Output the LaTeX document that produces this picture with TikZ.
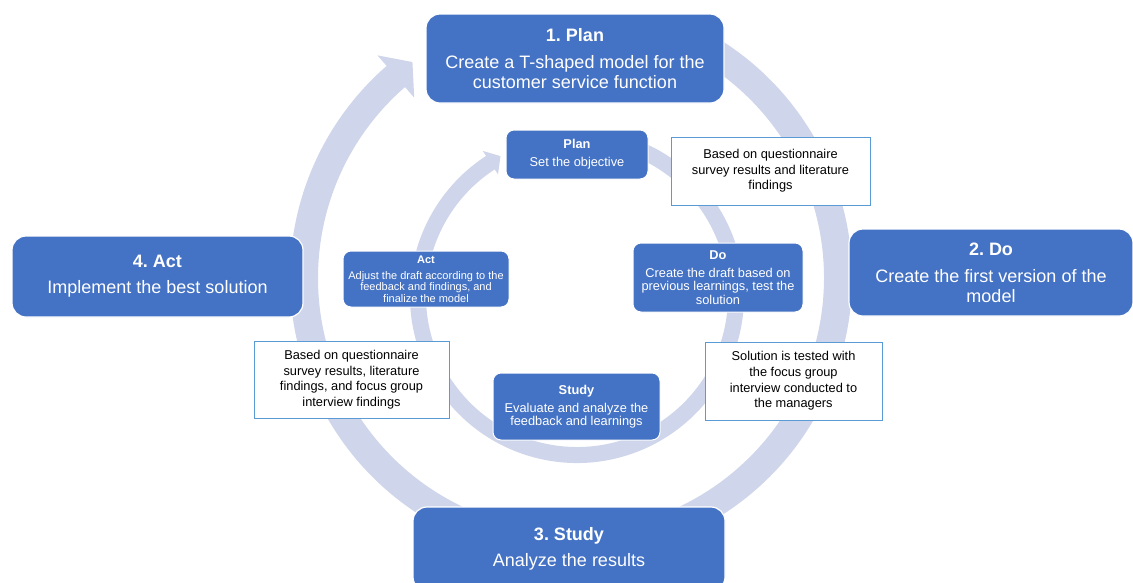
\documentclass[tikz,border=0pt]{standalone}
\usepackage{fontspec}
\setmainfont{Liberation Sans}
\usetikzlibrary{calc}
\frenchspacing
\definecolor{boxblue}{HTML}{4472C4}
\definecolor{ringc}{HTML}{CFD5EA}
\definecolor{tbline}{HTML}{5B9BD5}
\begin{document}
\begin{tikzpicture}[x=1pt,y=-1pt,
  bigbox/.style={draw=white, line width=1.2pt, fill=boxblue, rounded corners=14pt,
    text=white, align=center, inner sep=0pt, font=\fontsize{18}{19.4}\selectfont},
  smallbox/.style={draw=white, line width=1pt, fill=boxblue, rounded corners=8pt,
    text=white, align=center, inner sep=0pt, font=\fontsize{12.8}{13.3}\selectfont},
  actbox/.style={smallbox, font=\fontsize{11}{11.5}\selectfont},
  notebox/.style={draw=tbline, line width=1pt, fill=white, align=center,
    inner sep=0pt, font=\fontsize{12.8}{15.6}\selectfont}]

\useasboundingbox (0,0) rectangle (1133,582);

% outer cycle arrow
\coordinate (oc) at (571,278);
\fill[ringc] ($(oc)+(-70:281)$) arc[start angle=-70, end angle=229, radius=281]
  -- ($(oc)+(229:295)$) -- ($(oc)+(229:267)+(-41:22)$) -- ($(oc)+(229:239)$)
  -- ($(oc)+(229:253)$) arc[start angle=229, end angle=-70, radius=253] -- cycle;

% inner cycle arrow
\coordinate (ic) at (577,296);
\fill[ringc] ($(ic)+(-75:167)$) arc[start angle=-75, end angle=237, radius=167]
  -- ($(ic)+(237:173)$) -- ($(ic)+(237:159)+(-33:12)$) -- ($(ic)+(237:145)$)
  -- ($(ic)+(237:151)$) arc[start angle=237, end angle=-75, radius=151] -- cycle;

% outer PDSA steps
\node[bigbox, minimum width=298pt, minimum height=89pt] (plan) at (575,58.5)
  {\textbf{1. Plan}\\[7.6pt]Create a T-shaped model for the\\customer service function};
\node[bigbox, minimum width=284pt, minimum height=87pt] (do) at (991,272.5)
  {\textbf{2. Do}\\[7.9pt]Create the first version of the\\model};
\node[bigbox, minimum width=312pt, minimum height=84pt] (study) at (569,549)
  {\textbf{3. Study}\\[6.6pt]Analyze the results};
\node[bigbox, minimum width=291pt, minimum height=81pt] (act) at (157.5,276.5)
  {\textbf{4. Act}\\[6.3pt]Implement the best solution};

% inner PDSA steps
\node[smallbox, minimum width=142pt, minimum height=49pt] (iplan) at (577,154.5)
  {\textbf{Plan}\\[4.7pt]Set the objective};
\node[smallbox, minimum width=170pt, minimum height=69pt] (ido) at (718,277.5)
  {\textbf{Do}\\[5pt]Create the draft based on\\previous learnings, test the\\solution};
\node[smallbox, minimum width=167pt, minimum height=67pt] (istudy) at (576.5,406.5)
  {\textbf{Study}\\[4.7pt]Evaluate and analyze the\\feedback and learnings};
\node[actbox, minimum width=166pt, minimum height=56pt] (iact) at (426,279)
  {\textbf{Act}\\[4.2pt]Adjust the draft according to the\\feedback and findings, and\\finalize the model};

% notes
\node[notebox, minimum width=199pt, minimum height=68pt] (note1) at (770.5,171)
  {Based on questionnaire\\survey results and literature\\findings};
\node[notebox, minimum width=195pt, minimum height=77pt] (note2) at (351.5,379.5)
  {Based on questionnaire\\survey results, literature\\findings, and focus group\\interview findings};
\node[notebox, minimum width=177pt, minimum height=78pt] (note3) at (793.5,381)
  {Solution is tested with\\the focus group\\interview conducted to\\the managers};
\end{tikzpicture}
\end{document}
